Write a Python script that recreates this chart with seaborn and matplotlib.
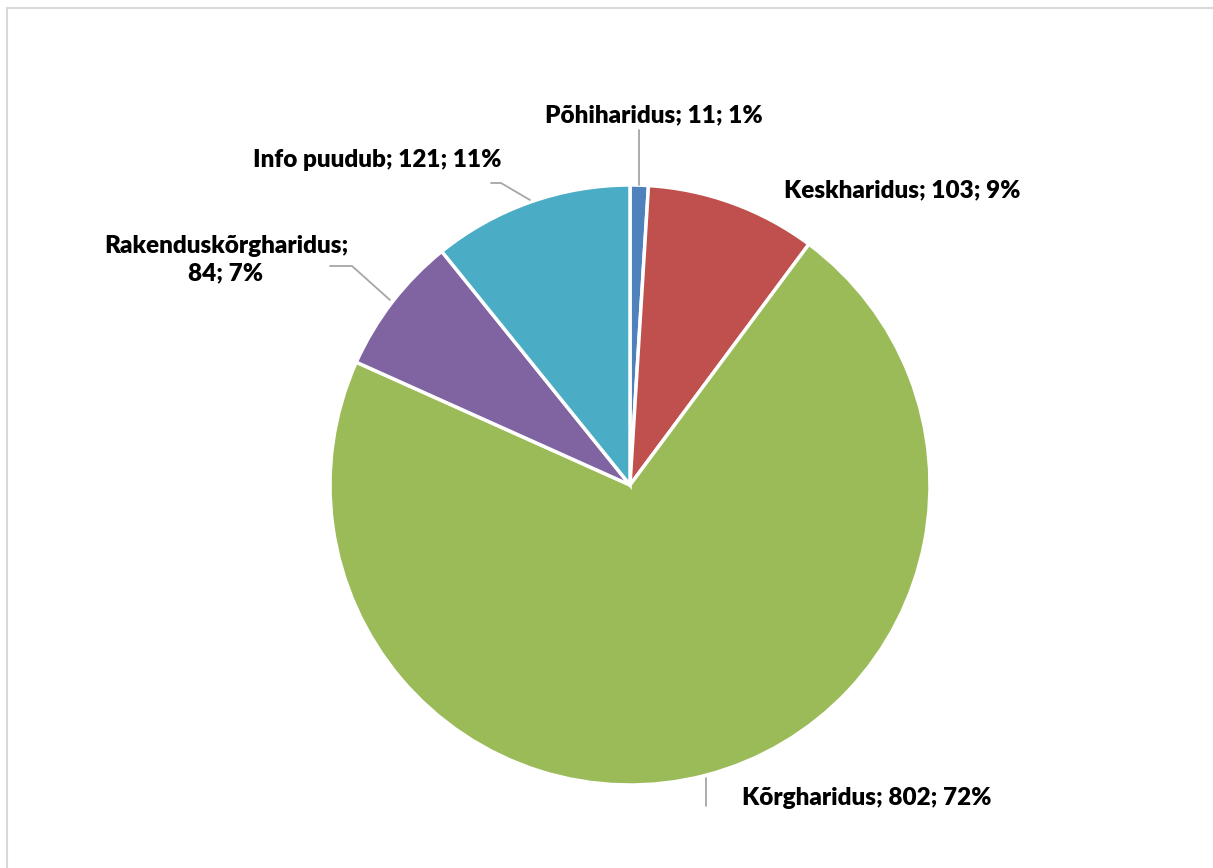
import matplotlib
matplotlib.use("Agg")
import matplotlib.pyplot as plt
import seaborn as sns
from matplotlib.patches import Rectangle

sns.set_theme(style="white")
plt.rcParams["font.family"] = ["Lato", "DejaVu Sans"]

categories = ["Põhiharidus", "Keskharidus", "Kõrgharidus", "Rakenduskõrgharidus", "Info puudub"]
counts = [11, 103, 802, 84, 121]
colors = ["#4F81BD", "#C0504D", "#9BBB59", "#8064A2", "#4BACC6"]

W, H = 1213, 868
fig = plt.figure(figsize=(W / 100, H / 100), dpi=100)
ax = fig.add_axes([0, 0, 1, 1])

def py(y):
    return H - y

cx, cy, r = 630, 485, 300
ax.pie(counts, colors=colors, startangle=90, counterclock=False,
       center=(cx, py(cy)), radius=r, frame=True,
       wedgeprops=dict(edgecolor="white", linewidth=2.5))
ax.set_xlim(0, W)
ax.set_ylim(0, H)
ax.set_aspect("equal")
ax.axis("off")

# chart area border
ax.add_patch(Rectangle((7, py(H + 20)), W + 20, H + 20 - 8, fill=False,
                       edgecolor="#d9d9d9", linewidth=1.5))

total = sum(counts)
labels = [f"{c}; {v}; {round(100 * v / total)}%" for c, v in zip(categories, counts)]
labels[3] = f"{categories[3]};\n{counts[3]}; {round(100 * counts[3] / total)}%"

label_pos = [(654, 115), (902, 190), (867, 798), (226, 260), (377, 160)]
for text, (x, y) in zip(labels, label_pos):
    ax.text(x, py(y), text, ha="center", va="center", fontsize=17.5,
            fontweight="heavy", color="black", linespacing=1.3)

lc = "#a6a6a6"
leaders = [
    [(639, 130), (639, 185)],
    [(706, 778), (706, 806)],
    [(330, 266), (352, 266), (390, 300)],
    [(491, 183), (501, 183), (530, 200)],
]
for pts in leaders:
    xs = [p[0] for p in pts]
    ys = [py(p[1]) for p in pts]
    ax.plot(xs, ys, color=lc, linewidth=1.3)

fig.savefig("out.png", dpi=100)
